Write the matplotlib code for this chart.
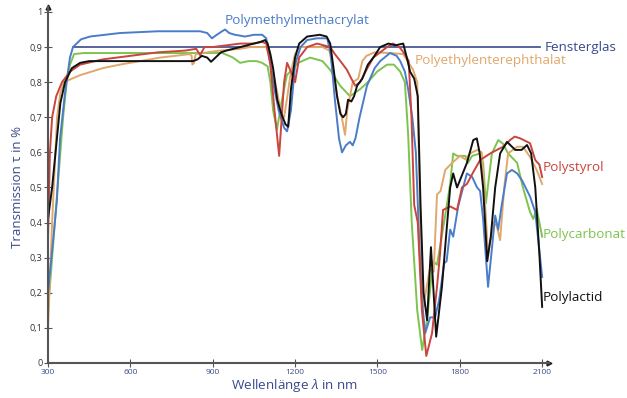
import matplotlib
matplotlib.use("Agg")
import matplotlib.pyplot as plt

plt.rcParams['font.family'] = ['Open Sans', 'DejaVu Sans']
plt.rcParams['mathtext.fontset'] = 'custom'
plt.rcParams['mathtext.it'] = 'Open Sans:italic'
plt.rcParams['mathtext.rm'] = 'Open Sans'

# ---------------- data ----------------
xticks = [300, 600, 900, 1200, 1500, 1800, 2100]
yticks = [0, 0.1, 0.2, 0.3, 0.4, 0.5, 0.6, 0.7, 0.8, 0.9, 1.0]
ytick_labels = ["0", "0,1", "0,2", "0,3", "0,4", "0,5", "0,6", "0,7", "0,8", "0,9", "1"]

glas_x = [390, 2092]
glas_y = [0.90, 0.90]

pmma_x = [300, 320, 332, 344, 362, 380, 391, 420, 453, 562, 700, 854, 880, 897, 915, 934, 945, 960, 981, 1018,
          1050, 1080, 1095, 1105, 1120, 1140, 1160, 1171, 1185, 1200, 1220, 1244, 1280, 1317, 1330, 1345, 1360,
          1371, 1385, 1400, 1410, 1420, 1435, 1450, 1462, 1490, 1510, 1546, 1570, 1583, 1600, 1612, 1627, 1640,
          1652, 1662, 1674, 1692, 1710, 1725, 1743, 1752, 1765, 1776, 1794, 1812, 1826, 1845, 1863, 1874, 1885,
          1903, 1915, 1929, 1940, 1952, 1972, 1990, 2009, 2027, 2056, 2075, 2100]
pmma_y = [0.20, 0.36, 0.46, 0.64, 0.77, 0.87, 0.90, 0.922, 0.93, 0.94, 0.945, 0.945, 0.94, 0.925, 0.935, 0.945,
          0.95, 0.94, 0.935, 0.93, 0.935, 0.935, 0.925, 0.88, 0.80, 0.72, 0.67, 0.66, 0.72, 0.85, 0.90, 0.92,
          0.925, 0.925, 0.88, 0.75, 0.64, 0.60, 0.62, 0.63, 0.62, 0.64, 0.70, 0.75, 0.79, 0.84, 0.86, 0.883,
          0.875, 0.86, 0.83, 0.78, 0.70, 0.60, 0.35, 0.18, 0.085, 0.13, 0.13, 0.18, 0.284, 0.29, 0.38, 0.36,
          0.446, 0.50, 0.54, 0.53, 0.50, 0.49, 0.41, 0.217, 0.31, 0.42, 0.38, 0.446, 0.54, 0.55, 0.54, 0.52,
          0.474, 0.43, 0.245]

pet_x = [300, 315, 333, 345, 358, 417, 500, 562, 708, 817, 823, 826, 832, 838, 880, 927, 1000, 1036, 1095,
         1105, 1120, 1135, 1150, 1160, 1170, 1185, 1200, 1215, 1300, 1325, 1340, 1353, 1370, 1382, 1390,
         1400, 1410, 1430, 1445, 1460, 1490, 1546, 1594, 1610, 1630, 1645, 1655, 1667, 1690, 1705, 1717, 1730,
         1747, 1772, 1801, 1820, 1838, 1863, 1880, 1892, 1903, 1923, 1935, 1947, 1962, 1976, 2009, 2030, 2056,
         2080, 2100]
pet_y = [0.10, 0.40, 0.70, 0.77, 0.80, 0.82, 0.84, 0.85, 0.87, 0.88, 0.875, 0.85, 0.855, 0.88, 0.885, 0.89,
         0.895, 0.90, 0.90, 0.88, 0.83, 0.77, 0.71, 0.70, 0.75, 0.83, 0.88, 0.90, 0.90, 0.89, 0.83, 0.76,
         0.70, 0.65, 0.72, 0.76, 0.80, 0.81, 0.86, 0.875, 0.885, 0.883, 0.88, 0.86, 0.835, 0.80, 0.45, 0.16,
         0.265, 0.26, 0.48, 0.49, 0.55, 0.57, 0.59, 0.58, 0.597, 0.607, 0.60, 0.455, 0.31, 0.40, 0.39, 0.35,
         0.50, 0.597, 0.616, 0.616, 0.587, 0.55, 0.51]

ps_x = [300, 307, 315, 330, 351, 380, 417, 500, 600, 700, 800, 840, 854, 870, 900, 950, 1000, 1050, 1080,
        1095, 1110, 1125, 1142, 1160, 1171, 1185, 1200, 1215, 1244, 1280, 1328, 1345, 1370, 1389, 1405,
        1419, 1437, 1460, 1485, 1535, 1557, 1580, 1600, 1614, 1624, 1634, 1647, 1662, 1678, 1699, 1717, 1728,
        1739, 1765, 1790, 1808, 1826, 1850, 1874, 1911, 1935, 1958, 1983, 2000, 2020, 2056, 2075, 2090, 2100]
ps_y = [0.35, 0.60, 0.70, 0.76, 0.80, 0.83, 0.85, 0.865, 0.875, 0.885, 0.89, 0.895, 0.877, 0.90, 0.90, 0.905,
        0.91, 0.91, 0.915, 0.91, 0.85, 0.72, 0.59, 0.80, 0.855, 0.83, 0.80, 0.87, 0.90, 0.91, 0.90, 0.88,
        0.855, 0.835, 0.81, 0.79, 0.80, 0.835, 0.87, 0.90, 0.91, 0.90, 0.88, 0.86, 0.70, 0.45, 0.40, 0.15, 0.02,
        0.085, 0.217, 0.31, 0.436, 0.446, 0.436, 0.50, 0.51, 0.545, 0.578, 0.597, 0.607, 0.616, 0.635, 0.645,
        0.64, 0.626, 0.578, 0.565, 0.53]

pc_x = [300, 320, 340, 355, 368, 380, 395, 430, 934, 960, 974, 1000, 1030, 1060, 1080, 1100, 1110, 1120,
        1134, 1150, 1170, 1211, 1255, 1300, 1328, 1364, 1400, 1437, 1465, 1499, 1535, 1560, 1583, 1600, 1612,
        1625, 1645, 1663, 1680, 1703, 1717, 1730, 1754, 1765, 1776, 1790, 1820, 1830, 1845, 1874, 1885, 1895,
        1917, 1940, 1957, 1976, 2009, 2030, 2056, 2068, 2080, 2100]
pc_y = [0.15, 0.35, 0.55, 0.70, 0.80, 0.85, 0.88, 0.883, 0.883, 0.875, 0.87, 0.855, 0.86, 0.86, 0.855, 0.845,
        0.80, 0.72, 0.664, 0.74, 0.82, 0.855, 0.87, 0.86, 0.835, 0.79, 0.76, 0.78, 0.80, 0.83, 0.85, 0.85,
        0.83, 0.80, 0.65, 0.40, 0.15, 0.037, 0.12, 0.29, 0.28, 0.34, 0.455, 0.51, 0.597, 0.59, 0.59, 0.57,
        0.59, 0.597, 0.57, 0.455, 0.597, 0.635, 0.625, 0.597, 0.57, 0.50, 0.43, 0.41, 0.44, 0.36]

pla_x = [300, 315, 330, 345, 362, 387, 417, 450, 828, 845, 860, 880, 894, 910, 930, 950, 1000, 1050, 1075,
         1091, 1100, 1110, 1120, 1135, 1150, 1165, 1175, 1185, 1200, 1215, 1244, 1290, 1315, 1328, 1340, 1353,
         1365, 1375, 1385, 1393, 1405, 1415, 1426, 1445, 1465, 1485, 1510, 1540, 1565, 1594, 1607, 1619, 1634,
         1647, 1657, 1668, 1681, 1695, 1714, 1735, 1750, 1765, 1776, 1790, 1826, 1849, 1862, 1872, 1885, 1900,
         1913, 1929, 1947, 1972, 2002, 2025, 2045, 2060, 2075, 2090, 2100]
pla_y = [0.41, 0.50, 0.62, 0.74, 0.80, 0.84, 0.855, 0.86, 0.86, 0.865, 0.875, 0.87, 0.858, 0.87, 0.885, 0.89,
         0.90, 0.91, 0.915, 0.92, 0.91, 0.88, 0.84, 0.75, 0.71, 0.68, 0.673, 0.78, 0.87, 0.91, 0.93, 0.935,
         0.93, 0.91, 0.84, 0.76, 0.71, 0.70, 0.71, 0.75, 0.745, 0.76, 0.79, 0.81, 0.85, 0.87, 0.90, 0.91,
         0.905, 0.91, 0.87, 0.83, 0.81, 0.76, 0.45, 0.20, 0.122, 0.33, 0.075, 0.217, 0.36, 0.50, 0.54, 0.50,
         0.57, 0.635, 0.64, 0.60, 0.50, 0.29, 0.36, 0.50, 0.597, 0.63, 0.607, 0.607, 0.621, 0.597, 0.50, 0.31,
         0.16]

NAVY = "#3b4a8c"
BLUE = "#4a7cc9"
ORANGE = "#e0a86c"
RED = "#c9453e"
GREEN = "#7cc44e"
BLACK = "#111111"
AXIS = "#555555"

# ---------------- figure ----------------
fig = plt.figure(figsize=(6.27, 3.98), dpi=100)
ax = fig.add_axes([48 / 627, 35 / 398, 501 / 627, (363 - 6.7) / 398])

lw = 1.4
ax.plot(glas_x, glas_y, color=NAVY, lw=1.2)
ax.plot(pc_x, pc_y, color=GREEN, lw=lw)
ax.plot(pet_x, pet_y, color=ORANGE, lw=lw)
ax.plot(pmma_x, pmma_y, color=BLUE, lw=lw)
ax.plot(ps_x, ps_y, color=RED, lw=lw)
ax.plot(pla_x, pla_y, color=BLACK, lw=lw)

ax.set_xlim(300, 2125)
ax.set_ylim(0, 1.015)

for s in ["top", "right"]:
    ax.spines[s].set_visible(False)
for s in ["left", "bottom"]:
    ax.spines[s].set_color(AXIS)
    ax.spines[s].set_linewidth(1.5)

ax.plot(1, 0, marker=">", color="#222222", markersize=3.5, transform=ax.transAxes, clip_on=False)
ax.plot(0, 1, marker="^", color="#222222", markersize=3.5, transform=ax.transAxes, clip_on=False)

ax.set_xticks(xticks)
ax.set_xticklabels([str(v) for v in xticks], fontsize=6, color=NAVY)
ax.set_yticks(yticks)
ax.set_yticklabels(ytick_labels, fontsize=6.5, color="#333333")
ax.tick_params(axis="both", direction="inout", length=6, width=0.8, color=AXIS)
ax.tick_params(axis="x", pad=1)
ax.tick_params(axis="y", pad=1)

fs = 9.7
ax.text(945, 0.977, "Polymethylmethacrylat", color=BLUE, fontsize=fs, va="center", ha="left")
ax.text(2110, 0.90, "Fensterglas", color=NAVY, fontsize=fs, va="center", ha="left", clip_on=False)
ax.text(1637, 0.863, "Polyethylenterephthalat", color=ORANGE, fontsize=fs, va="center", ha="left")
ax.text(2103, 0.558, "Polystyrol", color=RED, fontsize=fs, va="center", ha="left", clip_on=False)
ax.text(2103, 0.365, "Polycarbonat", color=GREEN, fontsize=fs, va="center", ha="left", clip_on=False)
ax.text(2103, 0.188, "Polylactid", color=BLACK, fontsize=fs, va="center", ha="left", clip_on=False)

fig.text(18 / 627, 1 - 187 / 398, "Transmission τ in %", rotation=90, color=NAVY, fontsize=9.5,
         ha="center", va="center")
fig.text(295 / 627, 1 - 385 / 398, r"Wellenlänge $\lambda$ in nm", color=NAVY, fontsize=9.7,
         ha="center", va="center")

fig.savefig("out.png", dpi=100)
